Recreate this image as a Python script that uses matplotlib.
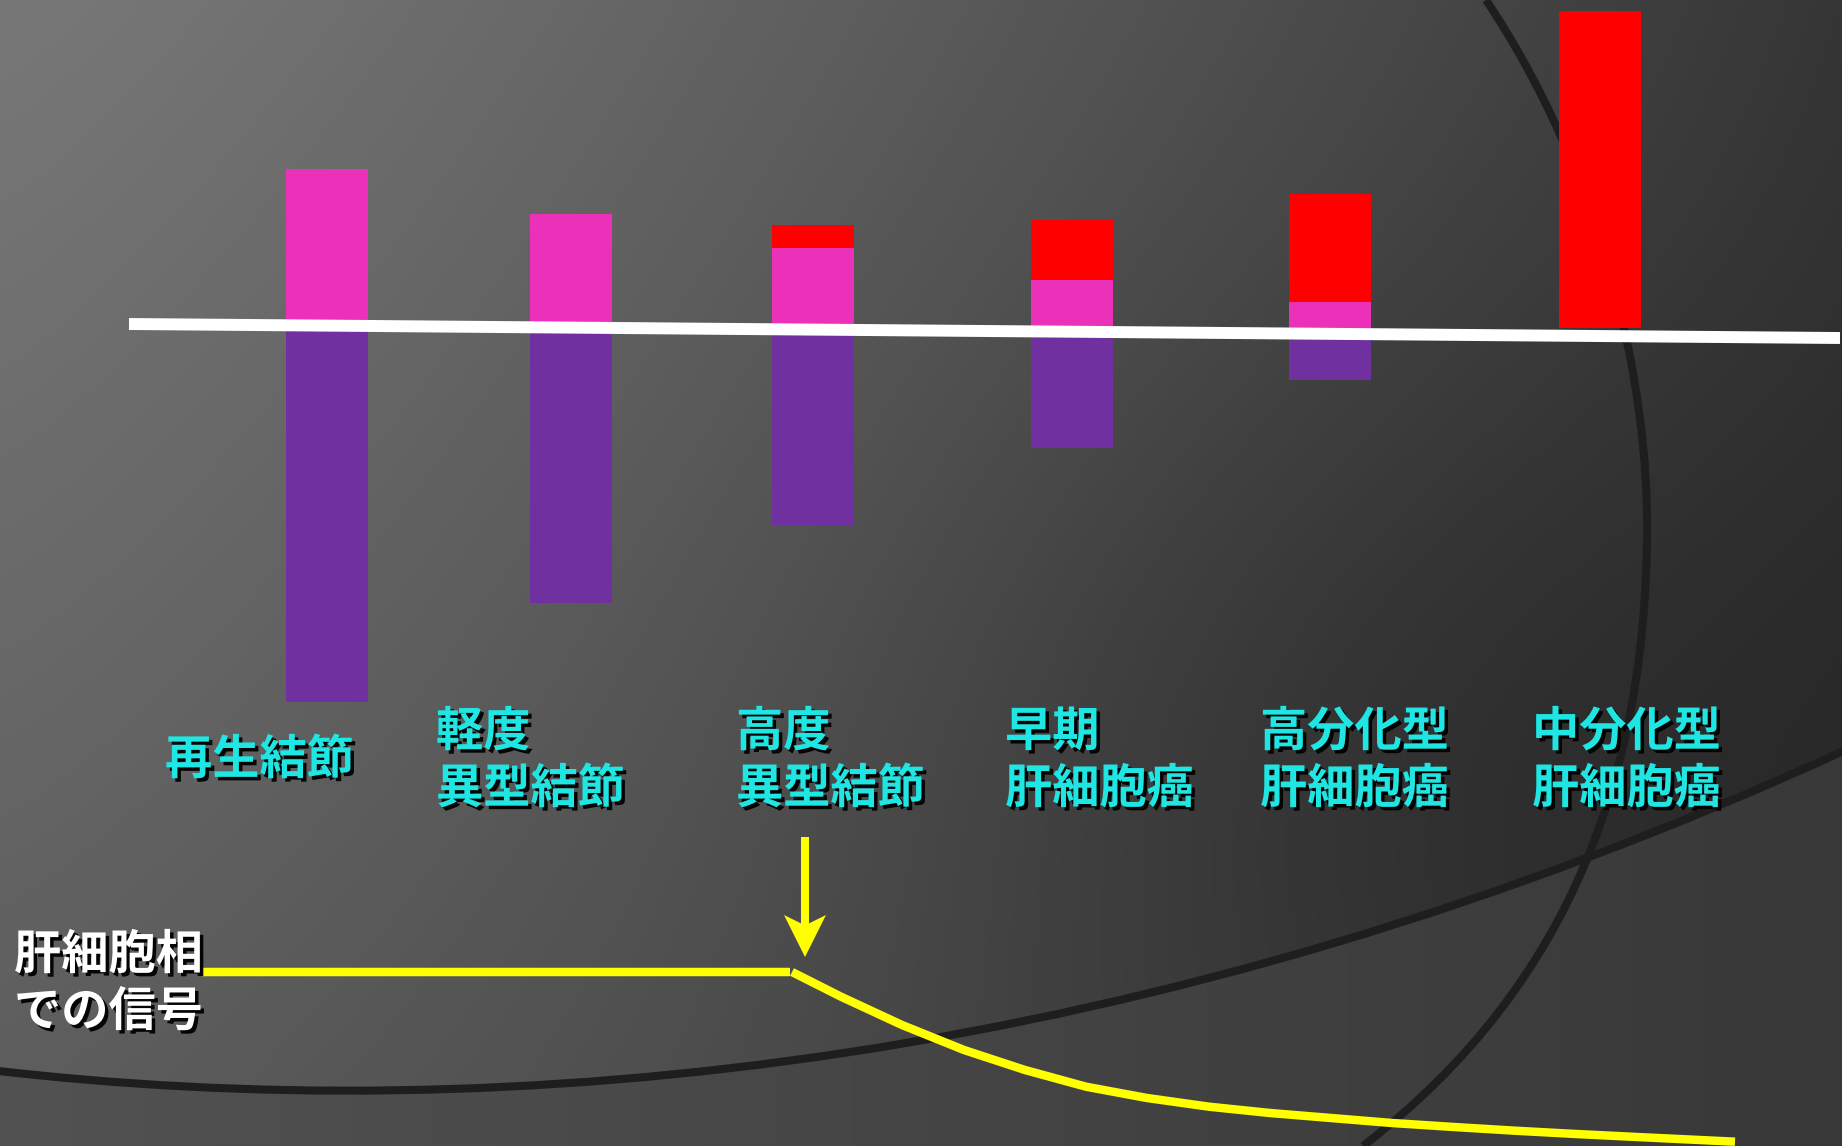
import matplotlib.pyplot as plt
import matplotlib.patheffects as pe
import numpy as np
from matplotlib.patches import PathPatch
from matplotlib.path import Path

plt.rcParams["font.family"] = ["Noto Sans CJK JP", "DejaVu Sans"]

W, H = 1842, 1146
DPI = 100

# Nodule stages (x labels, one or two lines each)
stage_labels = [
    ["再生結節"],
    ["軽度", "異型結節"],
    ["高度", "異型結節"],
    ["早期", "肝細胞癌"],
    ["高分化型", "肝細胞癌"],
    ["中分化型", "肝細胞癌"],
]
# Relative signal above / below the baseline (arbitrary units)
magenta_vals = [15.9, 11.4, 8.0, 4.8, 2.6, 0.0]
red_vals = [0.0, 0.0, 2.3, 6.0, 10.8, 31.7]
purple_vals = [-37.4, -27.5, -19.7, -12.0, -5.2, 0.0]

# Hepatocyte-phase signal trace (canvas pixels)
plateau_x = [202, 790]
plateau_y = [972, 972]
decline_x = [792, 841, 902, 964, 1025, 1086, 1147, 1209, 1270, 1331, 1392,
             1454, 1515, 1576, 1637, 1735]
decline_y = [972, 996.7, 1025, 1050, 1070, 1086.7, 1098, 1106.7, 1113, 1118,
             1123, 1127, 1130.7, 1134, 1137, 1141.7]

# layout
bar_x = [326.6, 571, 813, 1071.5, 1329.5, 1599.5]
bar_w = 82
zero_px = 328
px_per_unit = 10
label_x = [165, 436, 736, 1005, 1260, 1532]

C_MAGENTA = "#eb31ba"
C_PURPLE = "#7030a0"
C_RED = "#ff0000"
C_CYAN = "#20e6e3"
C_YELLOW = "#ffff00"
C_ARC = "#1e1e1e"

shadow = [pe.SimplePatchShadow(offset=(2.5, -2.5), shadow_rgbFace="black", alpha=0.95),
          pe.Normal()]

big_arc = Path([(1486, 0), (1600, 170), (1650, 380), (1647, 540),
                (1644, 760), (1580, 980), (1363, 1146)],
               [Path.MOVETO] + [Path.CURVE4] * 6)
LOW_CTRL = np.array([(-10, 1070), (500, 1130), (1150, 1070), (1850, 748)], float)
low_arc = Path(LOW_CTRL, [Path.MOVETO] + [Path.CURVE4] * 3)


def cubic(ctrl, n=300):
    t = np.linspace(0, 1, n)[:, None]
    p0, p1, p2, p3 = ctrl
    return ((1 - t) ** 3 * p0 + 3 * (1 - t) ** 2 * t * p1
            + 3 * (1 - t) * t ** 2 * p2 + t ** 3 * p3)


def background():
    ys, xs = np.mgrid[0:H:2, 0:W:2].astype(float)
    s = np.clip(xs / W, 0, 1) ** 1.2
    v = 120 - 66 * s - 28 * (ys / H) * (1 - 0.6 * s)
    v -= 12 * np.exp(-((xs - 1380) ** 2 / (2 * 380 ** 2) + (ys - 720) ** 2 / (2 * 300 ** 2)))
    # lighter band under the lower sweep
    pts = cubic(LOW_CTRL)
    edge = np.interp(xs, pts[:, 0], pts[:, 1])
    below = ys > edge
    v[below] = 82 - 26 * (xs[below] / W)
    v = np.clip(v, 0, 255) / 255
    return np.dstack([v, v, v])


fig = plt.figure(figsize=(W / DPI, H / DPI), dpi=DPI)

# background layer
bg = fig.add_axes([0, 0, 1, 1], zorder=0)
bg.imshow(background(), extent=(0, W, H, 0), interpolation="bilinear", aspect="auto")
for p in (big_arc, low_arc):
    bg.add_patch(PathPatch(p, facecolor="none", edgecolor=C_ARC, lw=5.8))
bg.set_xlim(0, W)
bg.set_ylim(H, 0)
bg.axis("off")

# stacked bars in value units
ax = fig.add_axes([0, 0, 1, 1], zorder=1)
ax.patch.set_alpha(0)
ax.bar(bar_x, magenta_vals, width=bar_w, color=C_MAGENTA)
ax.bar(bar_x, red_vals, width=bar_w, bottom=magenta_vals, color=C_RED)
ax.bar(bar_x, purple_vals, width=bar_w, color=C_PURPLE)
ax.set_xlim(0, W)
ax.set_ylim((zero_px - H) / px_per_unit, zero_px / px_per_unit)
ax.axis("off")

# foreground annotations in canvas pixels
fg = fig.add_axes([0, 0, 1, 1], zorder=2)
fg.patch.set_alpha(0)
fg.set_xlim(0, W)
fg.set_ylim(H, 0)
fg.axis("off")

fg.plot([129, 1840], [324, 338], color="white", lw=8.6, solid_capstyle="butt")

for x, lines in zip(label_x, stage_labels):
    ys = [760] if len(lines) == 1 else [732, 789]
    for y, t in zip(ys, lines):
        fg.text(x, y, t, color=C_CYAN, fontsize=34, fontweight="bold",
                ha="left", va="center", path_effects=shadow)

fg.plot(plateau_x, plateau_y, color=C_YELLOW, lw=6.1, solid_capstyle="butt")
fg.plot(decline_x, decline_y, color=C_YELLOW, lw=6.1, solid_capstyle="butt",
        solid_joinstyle="round")
fg.arrow(805, 837, 0, 120, width=8, head_width=42, head_length=42,
         length_includes_head=True, overhang=0.2, color=C_YELLOW, lw=0)

fg.text(14, 955, "肝細胞相", color="white", fontsize=34, fontweight="bold",
        ha="left", va="center", path_effects=shadow)
fg.text(14, 1012, "での信号", color="white", fontsize=34, fontweight="bold",
        ha="left", va="center", path_effects=shadow)

fig.savefig("out.png", dpi=DPI)
